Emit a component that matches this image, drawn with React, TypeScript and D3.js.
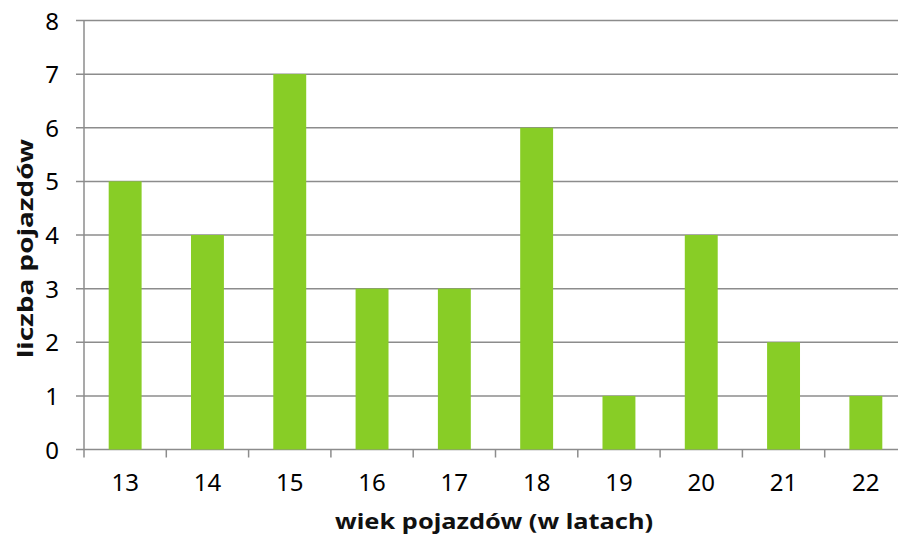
import React from "react";
import * as d3 from "d3";

const categories = ["13", "14", "15", "16", "17", "18", "19", "20", "21", "22"];
const values = [5, 4, 7, 3, 3, 6, 1, 4, 2, 1];
const yTicks = [0, 1, 2, 3, 4, 5, 6, 7, 8];
const xTitle = "wiek pojazdów (w latach)";
const yTitle = "liczba pojazdów";

export default function App() {
  const W = 898, H = 535;
  const left = 84, right = 907, top = 20.5, bottom = 449.5;
  const x = d3.scaleBand<string>().domain(categories).range([left, right]).paddingInner(0.6).paddingOuter(0.3);
  const xb = d3.scaleBand<string>().domain(categories).range([left, right]);
  const y = d3.scaleLinear().domain([0, 8]).range([bottom, top]);
  const font = "'Noto Sans', Tahoma, sans-serif";
  const grid = "#8c8c8c";
  return (
    <svg width={W} height={H} style={{ position: "absolute", left: 0, top: 0, background: "#fff" }} fontFamily={font}>
      {yTicks.map((t) => (
        <g key={t}>
          <line x1={left - 8} x2={right} y1={y(t)} y2={y(t)} stroke={grid} strokeWidth={1.5} />
          <text x={59} y={y(t) + 9} textAnchor="end" fontSize={24} fill="#000">{t}</text>
        </g>
      ))}
      {categories.map((c, i) => (
        <rect key={c} x={x(c)} width={x.bandwidth()} y={y(values[i])} height={y(0) - y(values[i])} fill="#88cd26" />
      ))}
      <line x1={left} x2={left} y1={top} y2={bottom + 8} stroke={grid} strokeWidth={1.5} />
      {categories.map((c) => (
        <line key={"t" + c} x1={(xb(c) as number) + xb.bandwidth()} x2={(xb(c) as number) + xb.bandwidth()} y1={bottom} y2={bottom + 8} stroke={grid} strokeWidth={1.5} />
      ))}
      {categories.map((c) => (
        <text key={"l" + c} x={(xb(c) as number) + xb.bandwidth() / 2} y={491} textAnchor="middle" fontSize={24} fill="#000">{c}</text>
      ))}
      <text x={494} y={529} textAnchor="middle" fontSize={21} fontWeight="bold" fill="#111" textLength={318} lengthAdjust="spacingAndGlyphs">{xTitle}</text>
      <text transform={`translate(33,248.5) rotate(-90)`} textAnchor="middle" fontSize={21} fontWeight="bold" fill="#111" textLength={219} lengthAdjust="spacingAndGlyphs">{yTitle}</text>
    </svg>
  );
}
